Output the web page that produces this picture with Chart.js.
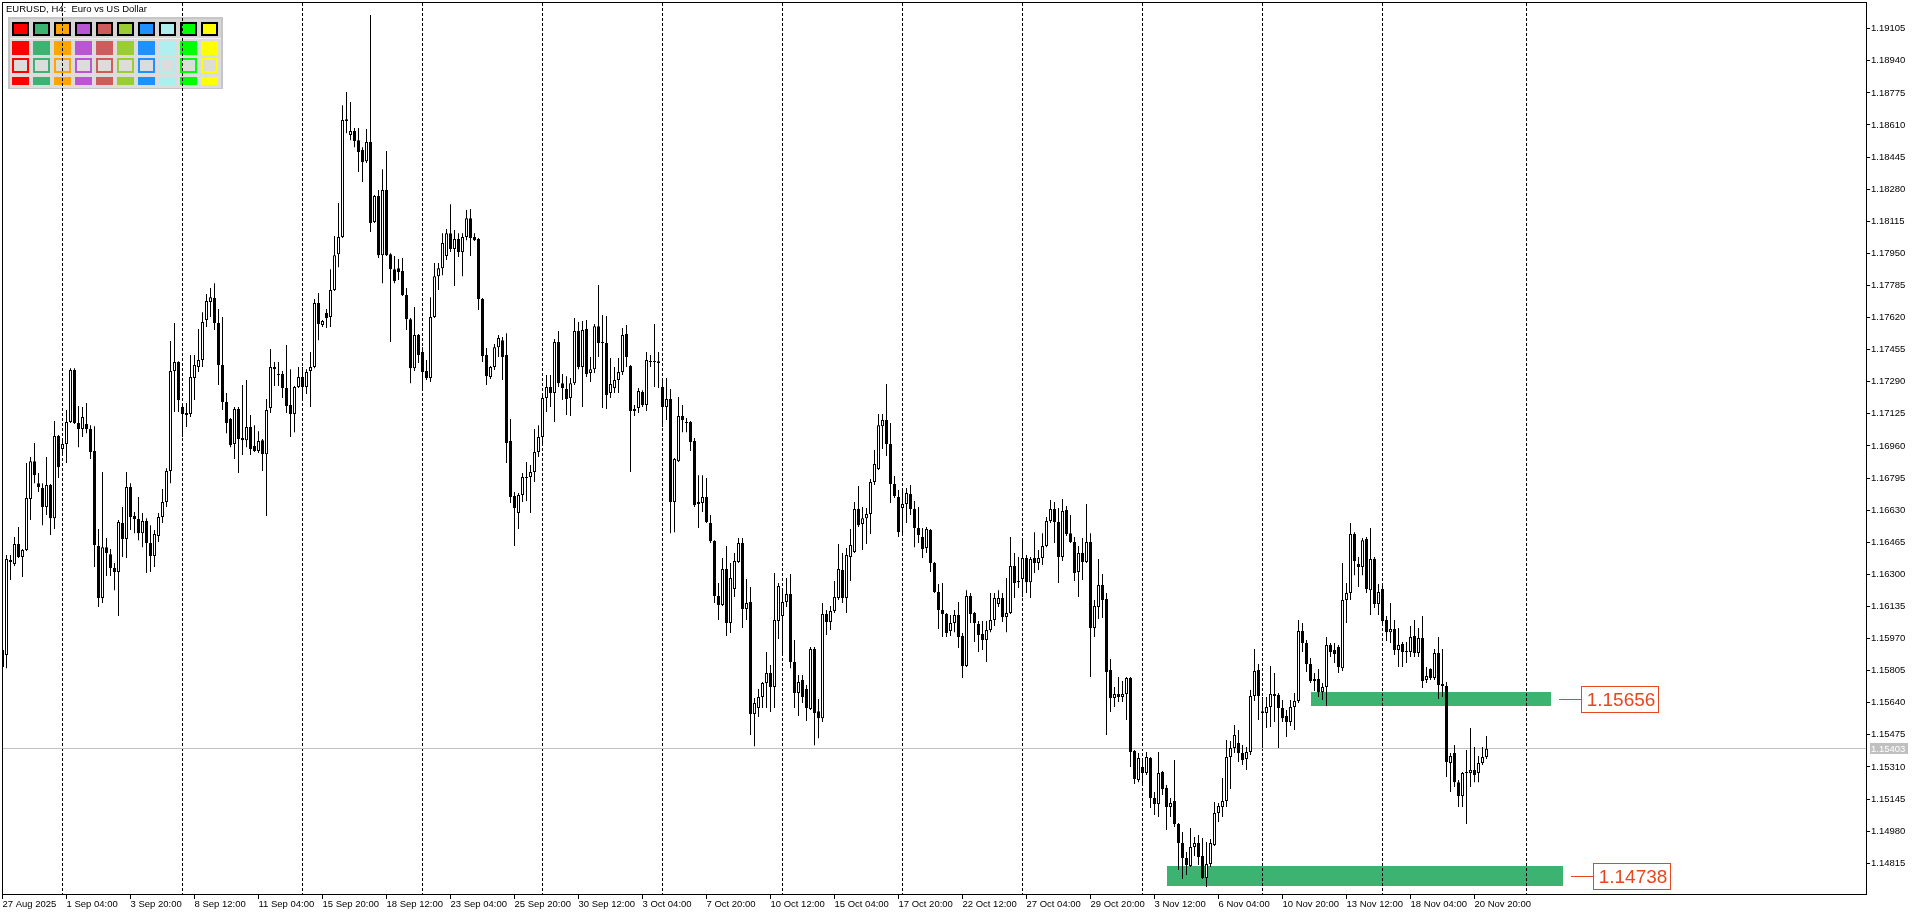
<!DOCTYPE html>
<html lang="en">
<head>
<meta charset="UTF-8" />
<title>EURUSD, H4</title>
<script src="https://cdn.jsdelivr.net/npm/chart.js"></script>
<style>
  html, body { margin: 0; padding: 0; background: #fff; overflow: hidden; }
  canvas { display: block; }
</style>
</head>
<body>
<canvas id="chart" width="1920" height="915"></canvas>
<script>
// EURUSD H4 bars, 27 Aug 2025 12:00 .. 21 Nov 2025 08:00
const openP = [
  1.15911, 1.15885, 1.16374, 1.16353, 1.16456, 1.16389, 1.16425, 1.16687, 1.16882, 1.16769,
  1.16744, 1.16646, 1.16759, 1.16589, 1.17011, 1.16944, 1.16970, 1.17083, 1.17350, 1.17078,
  1.17047, 1.17073, 1.17047, 1.16934, 1.16446, 1.16179, 1.16440, 1.16404, 1.16333, 1.16312,
  1.16564, 1.16482, 1.16749, 1.16600, 1.16584, 1.16512, 1.16574, 1.16461, 1.16394, 1.16497,
  1.16595, 1.16672, 1.16831, 1.17345, 1.17391, 1.17160, 1.17129, 1.17124, 1.17309, 1.17366,
  1.17402, 1.17607, 1.17700, 1.17720, 1.17592, 1.17376, 1.17186, 1.17098, 1.16970, 1.17150,
  1.17001, 1.16990, 1.17057, 1.16960, 1.16934, 1.16990, 1.16918, 1.17155, 1.17366, 1.17330,
  1.17330, 1.17258, 1.17170, 1.17124, 1.17263, 1.17314, 1.17263, 1.17345, 1.17366, 1.17695,
  1.17582, 1.17643, 1.17623, 1.17762, 1.17946, 1.18034, 1.18630, 1.18558, 1.18579, 1.18532,
  1.18481, 1.18424, 1.18522, 1.18111, 1.18245, 1.17941, 1.18276, 1.17946, 1.17869, 1.17874,
  1.17859, 1.17736, 1.17612, 1.17360, 1.17530, 1.17443, 1.17345, 1.17309, 1.17623, 1.17833,
  1.17874, 1.17936, 1.18054, 1.17972, 1.18024, 1.17957, 1.18034, 1.18131, 1.18034, 1.18024,
  1.17715, 1.17427, 1.17314, 1.17366, 1.17468, 1.17504, 1.17427, 1.16985, 1.16703, 1.16615,
  1.16708, 1.16800, 1.16800, 1.16826, 1.16929, 1.17006, 1.17206, 1.17263, 1.17232, 1.17494,
  1.17283, 1.17253, 1.17206, 1.17283, 1.17551, 1.17366, 1.17561, 1.17335, 1.17355, 1.17576,
  1.17494, 1.17489, 1.17232, 1.17258, 1.17299, 1.17340, 1.17535, 1.17371, 1.17150, 1.17155,
  1.17237, 1.17170, 1.17396, 1.17391, 1.17396, 1.17263, 1.17160, 1.17201, 1.16672, 1.16882,
  1.17114, 1.17083, 1.17083, 1.16985, 1.16662, 1.16667, 1.16698, 1.16564, 1.16471, 1.16189,
  1.16142, 1.16327, 1.16050, 1.16225, 1.16363, 1.16461, 1.16122, 1.16158, 1.15582, 1.15613,
  1.15670, 1.15742, 1.15793, 1.15721, 1.16060, 1.16086, 1.16158, 1.16199, 1.15850, 1.15690,
  1.15757, 1.15711, 1.15608, 1.15916, 1.15597, 1.15561, 1.16096, 1.16055, 1.16112, 1.16179,
  1.16322, 1.16179, 1.16389, 1.16415, 1.16636, 1.16559, 1.16589, 1.16610, 1.16775, 1.16841,
  1.17062, 1.17093, 1.16970, 1.16764, 1.16698, 1.16641, 1.16662, 1.16713, 1.16636, 1.16538,
  1.16492, 1.16435, 1.16528, 1.16358, 1.16209, 1.16117, 1.16096, 1.16009, 1.16050, 1.16091,
  1.15983, 1.15829, 1.16189, 1.16101, 1.16045, 1.15993, 1.15963, 1.16014, 1.16065, 1.16148,
  1.16179, 1.16081, 1.16101, 1.16343, 1.16266, 1.16276, 1.16384, 1.16260, 1.16384, 1.16358,
  1.16384, 1.16446, 1.16574, 1.16636, 1.16569, 1.16389, 1.16631, 1.16512, 1.16466, 1.16312,
  1.16410, 1.16363, 1.16466, 1.16024, 1.16132, 1.16245, 1.16173, 1.15808, 1.15664, 1.15685,
  1.15670, 1.15685, 1.15767, 1.15392, 1.15243, 1.15310, 1.15279, 1.15356, 1.15151, 1.15120,
  1.15284, 1.15202, 1.15104, 1.15135, 1.15017, 1.14919, 1.14842, 1.14801, 1.14898, 1.14919,
  1.14852, 1.14739, 1.14811, 1.14909, 1.15073, 1.15104, 1.15135, 1.15361, 1.15407, 1.15433,
  1.15382, 1.15351, 1.15387, 1.15675, 1.15808, 1.15597, 1.15587, 1.15618, 1.15685, 1.15680,
  1.15613, 1.15572, 1.15541, 1.15618, 1.15649, 1.16009, 1.15947, 1.15839, 1.15762, 1.15762,
  1.15695, 1.15721, 1.15937, 1.15911, 1.15927, 1.15818, 1.16168, 1.16204, 1.16507, 1.16353,
  1.16338, 1.16482, 1.16219, 1.16379, 1.16148, 1.16225, 1.16065, 1.16003, 1.16019, 1.15911,
  1.15942, 1.15906, 1.15901, 1.15983, 1.15896, 1.15973, 1.15757, 1.15813, 1.15767, 1.15896,
  1.15736, 1.15726, 1.15330, 1.15382, 1.15232, 1.15161, 1.15279, 1.15279, 1.15294, 1.15279,
  1.15330, 1.15361
];
const highP = [
  1.15937, 1.16399, 1.16399, 1.16492, 1.16543, 1.16430, 1.16872, 1.16903, 1.16975, 1.16821,
  1.16769, 1.16903, 1.16765, 1.17088, 1.17016, 1.16990, 1.17145, 1.17360, 1.17360, 1.17165,
  1.17160, 1.17181, 1.17067, 1.17062, 1.16533, 1.16826, 1.16487, 1.16430, 1.16358, 1.16579,
  1.16646, 1.16826, 1.16769, 1.16620, 1.16698, 1.16615, 1.16589, 1.16553, 1.16528, 1.16615,
  1.16739, 1.16846, 1.17499, 1.17592, 1.17396, 1.17170, 1.17181, 1.17427, 1.17427, 1.17561,
  1.17648, 1.17741, 1.17772, 1.17797, 1.17664, 1.17623, 1.17232, 1.17104, 1.17160, 1.17160,
  1.17273, 1.17299, 1.17119, 1.17067, 1.17036, 1.16996, 1.17201, 1.17458, 1.17391, 1.17391,
  1.17345, 1.17479, 1.17355, 1.17268, 1.17366, 1.17366, 1.17355, 1.17443, 1.17715, 1.17746,
  1.17607, 1.17664, 1.17869, 1.18039, 1.18209, 1.18712, 1.18779, 1.18728, 1.18594, 1.18594,
  1.18496, 1.18589, 1.19175, 1.18250, 1.18276, 1.18383, 1.18476, 1.17951, 1.17936, 1.17921,
  1.17926, 1.17772, 1.17618, 1.17674, 1.17535, 1.17468, 1.17402, 1.17725, 1.17900, 1.17900,
  1.18054, 1.18075, 1.18203, 1.18070, 1.18054, 1.18054, 1.18173, 1.18178, 1.18054, 1.18029,
  1.17720, 1.17463, 1.17371, 1.17484, 1.17530, 1.17520, 1.17540, 1.17098, 1.16723, 1.16718,
  1.16821, 1.16877, 1.16862, 1.17047, 1.17067, 1.17232, 1.17325, 1.17325, 1.17510, 1.17551,
  1.17330, 1.17319, 1.17309, 1.17618, 1.17597, 1.17602, 1.17607, 1.17417, 1.17587, 1.17787,
  1.17633, 1.17628, 1.17412, 1.17366, 1.17412, 1.17566, 1.17582, 1.17376, 1.17170, 1.17258,
  1.17247, 1.17443, 1.17427, 1.17587, 1.17443, 1.17299, 1.17309, 1.17253, 1.16898, 1.17212,
  1.17170, 1.17104, 1.17088, 1.17001, 1.16810, 1.16810, 1.16795, 1.16605, 1.16476, 1.16255,
  1.16384, 1.16446, 1.16358, 1.16410, 1.16487, 1.16487, 1.16276, 1.16235, 1.15664, 1.15711,
  1.15747, 1.15901, 1.15834, 1.16307, 1.16255, 1.16219, 1.16281, 1.16302, 1.15963, 1.15783,
  1.15783, 1.15731, 1.15927, 1.15927, 1.15659, 1.16153, 1.16117, 1.16137, 1.16266, 1.16456,
  1.16410, 1.16435, 1.16533, 1.16672, 1.16754, 1.16646, 1.16641, 1.16790, 1.16939, 1.17124,
  1.17124, 1.17278, 1.17078, 1.16805, 1.16734, 1.16734, 1.16744, 1.16759, 1.16677, 1.16646,
  1.16538, 1.16543, 1.16533, 1.16363, 1.16250, 1.16255, 1.16101, 1.16091, 1.16117, 1.16158,
  1.15998, 1.16219, 1.16204, 1.16106, 1.16060, 1.16060, 1.16060, 1.16204, 1.16204, 1.16219,
  1.16204, 1.16281, 1.16492, 1.16410, 1.16389, 1.16476, 1.16399, 1.16389, 1.16517, 1.16425,
  1.16512, 1.16595, 1.16682, 1.16672, 1.16641, 1.16687, 1.16651, 1.16605, 1.16492, 1.16446,
  1.16487, 1.16662, 1.16512, 1.16168, 1.16379, 1.16302, 1.16204, 1.15865, 1.15721, 1.15772,
  1.15752, 1.15772, 1.15772, 1.15397, 1.15382, 1.15346, 1.15387, 1.15361, 1.15181, 1.15387,
  1.15289, 1.15217, 1.15151, 1.15346, 1.15022, 1.14976, 1.14873, 1.14996, 1.14950, 1.14960,
  1.14945, 1.14924, 1.14940, 1.15130, 1.15125, 1.15253, 1.15448, 1.15443, 1.15526, 1.15500,
  1.15423, 1.15412, 1.15706, 1.15916, 1.15839, 1.15670, 1.15670, 1.15829, 1.15793, 1.15690,
  1.15654, 1.15603, 1.15654, 1.15690, 1.16065, 1.16050, 1.15963, 1.15870, 1.15793, 1.15813,
  1.15742, 1.15978, 1.15947, 1.15947, 1.15937, 1.16358, 1.16255, 1.16564, 1.16517, 1.16389,
  1.16487, 1.16492, 1.16538, 1.16389, 1.16250, 1.16245, 1.16086, 1.16153, 1.16065, 1.16024,
  1.15952, 1.15952, 1.16034, 1.16065, 1.16024, 1.16086, 1.15824, 1.15818, 1.15916, 1.15978,
  1.15916, 1.15747, 1.15382, 1.15423, 1.15243, 1.15284, 1.15397, 1.15510, 1.15412, 1.15366,
  1.15412, 1.15469
];
const lowP = [
  1.15808, 1.15818, 1.16271, 1.16343, 1.16384, 1.16286, 1.16420, 1.16579, 1.16769, 1.16723,
  1.16553, 1.16605, 1.16502, 1.16533, 1.16795, 1.16913, 1.16872, 1.17078, 1.17073, 1.16954,
  1.17006, 1.17026, 1.16893, 1.16338, 1.16132, 1.16153, 1.16291, 1.16291, 1.16219, 1.16086,
  1.16389, 1.16384, 1.16528, 1.16512, 1.16476, 1.16440, 1.16307, 1.16312, 1.16338, 1.16466,
  1.16564, 1.16646, 1.16769, 1.17134, 1.17134, 1.17006, 1.17057, 1.17109, 1.17196, 1.17340,
  1.17366, 1.17571, 1.17623, 1.17556, 1.17273, 1.17145, 1.17026, 1.16954, 1.16893, 1.16821,
  1.16913, 1.16954, 1.16913, 1.16929, 1.16924, 1.16831, 1.16600, 1.17129, 1.17268, 1.17268,
  1.17206, 1.17129, 1.17006, 1.17031, 1.17258, 1.17196, 1.17227, 1.17160, 1.17360, 1.17504,
  1.17571, 1.17566, 1.17571, 1.17757, 1.17879, 1.18029, 1.18568, 1.18532, 1.18496, 1.18368,
  1.18317, 1.18414, 1.18060, 1.18106, 1.17926, 1.17797, 1.17936, 1.17494, 1.17797, 1.17813,
  1.17731, 1.17556, 1.17283, 1.17345, 1.17386, 1.17258, 1.17299, 1.17289, 1.17618, 1.17762,
  1.17838, 1.17916, 1.17957, 1.17782, 1.17931, 1.17833, 1.18018, 1.17936, 1.18013, 1.17659,
  1.17391, 1.17273, 1.17304, 1.17350, 1.17417, 1.17299, 1.16872, 1.16667, 1.16446, 1.16533,
  1.16672, 1.16677, 1.16615, 1.16775, 1.16903, 1.16975, 1.17134, 1.17160, 1.17083, 1.17263,
  1.17196, 1.17119, 1.17114, 1.17273, 1.17355, 1.17160, 1.17314, 1.17289, 1.17335, 1.17417,
  1.17155, 1.17150, 1.17206, 1.17232, 1.17232, 1.17325, 1.17366, 1.16826, 1.17114, 1.17129,
  1.17160, 1.17140, 1.17366, 1.17263, 1.17258, 1.17057, 1.17093, 1.16512, 1.16517, 1.16877,
  1.17031, 1.17031, 1.16934, 1.16646, 1.16538, 1.16620, 1.16564, 1.16461, 1.16153, 1.16065,
  1.16137, 1.15983, 1.15998, 1.16184, 1.16358, 1.16024, 1.16065, 1.15474, 1.15417, 1.15567,
  1.15613, 1.15613, 1.15592, 1.15613, 1.15968, 1.15896, 1.16132, 1.15818, 1.15613, 1.15572,
  1.15639, 1.15546, 1.15603, 1.15422, 1.15458, 1.15541, 1.15988, 1.16014, 1.16101, 1.16168,
  1.16153, 1.16101, 1.16266, 1.16410, 1.16543, 1.16425, 1.16456, 1.16507, 1.16759, 1.16836,
  1.16944, 1.16908, 1.16667, 1.16693, 1.16492, 1.16502, 1.16564, 1.16605, 1.16440, 1.16461,
  1.16384, 1.16410, 1.16312, 1.16204, 1.16019, 1.15978, 1.15978, 1.15983, 1.16003, 1.15922,
  1.15767, 1.15824, 1.16050, 1.15952, 1.15901, 1.15911, 1.15850, 1.16003, 1.16034, 1.16132,
  1.16055, 1.16003, 1.16096, 1.16179, 1.16230, 1.16184, 1.16204, 1.16179, 1.16307, 1.16322,
  1.16348, 1.16440, 1.16564, 1.16461, 1.16255, 1.16369, 1.16497, 1.16461, 1.16266, 1.16184,
  1.16271, 1.16358, 1.15772, 1.15978, 1.16070, 1.16076, 1.15474, 1.15592, 1.15618, 1.15644,
  1.15644, 1.15551, 1.15310, 1.15222, 1.15232, 1.15217, 1.15269, 1.15099, 1.15063, 1.15053,
  1.15166, 1.14986, 1.15053, 1.15002, 1.14780, 1.14734, 1.14755, 1.14796, 1.14852, 1.14806,
  1.14734, 1.14693, 1.14796, 1.14904, 1.15027, 1.15053, 1.15104, 1.15197, 1.15382, 1.15335,
  1.15320, 1.15294, 1.15371, 1.15649, 1.15551, 1.15407, 1.15510, 1.15515, 1.15541, 1.15407,
  1.15541, 1.15464, 1.15520, 1.15500, 1.15639, 1.15901, 1.15798, 1.15742, 1.15700, 1.15670,
  1.15654, 1.15623, 1.15875, 1.15844, 1.15793, 1.15803, 1.16050, 1.16168, 1.16296, 1.16235,
  1.16296, 1.16204, 1.16091, 1.16127, 1.16091, 1.16050, 1.15957, 1.15947, 1.15885, 1.15824,
  1.15824, 1.15844, 1.15875, 1.15875, 1.15875, 1.15716, 1.15742, 1.15757, 1.15757, 1.15659,
  1.15670, 1.15258, 1.15181, 1.15207, 1.15104, 1.15104, 1.15017, 1.15207, 1.15232, 1.15232,
  1.15320, 1.15351
];
const closeP = [
  1.15824, 1.16379, 1.16363, 1.16456, 1.16389, 1.16425, 1.16693, 1.16882, 1.16810, 1.16749,
  1.16646, 1.16759, 1.16589, 1.17011, 1.16851, 1.16970, 1.17083, 1.17350, 1.17078, 1.17047,
  1.17109, 1.17047, 1.16929, 1.16451, 1.16179, 1.16440, 1.16410, 1.16333, 1.16312, 1.16569,
  1.16482, 1.16749, 1.16595, 1.16584, 1.16512, 1.16574, 1.16461, 1.16394, 1.16507, 1.16595,
  1.16672, 1.16831, 1.17345, 1.17391, 1.17196, 1.17124, 1.17119, 1.17314, 1.17376, 1.17402,
  1.17597, 1.17705, 1.17725, 1.17592, 1.17376, 1.17186, 1.17078, 1.16965, 1.17150, 1.16996,
  1.16990, 1.17057, 1.16944, 1.16934, 1.16985, 1.16918, 1.17145, 1.17366, 1.17355, 1.17325,
  1.17258, 1.17165, 1.17124, 1.17263, 1.17314, 1.17263, 1.17340, 1.17366, 1.17695, 1.17587,
  1.17602, 1.17618, 1.17762, 1.17941, 1.18034, 1.18635, 1.18640, 1.18579, 1.18527, 1.18471,
  1.18419, 1.18522, 1.18106, 1.18245, 1.17941, 1.18276, 1.17941, 1.17869, 1.17808, 1.17854,
  1.17736, 1.17612, 1.17360, 1.17530, 1.17427, 1.17340, 1.17309, 1.17623, 1.17833, 1.17874,
  1.18003, 1.18054, 1.17972, 1.18024, 1.17957, 1.18034, 1.18131, 1.18029, 1.18018, 1.17715,
  1.17422, 1.17319, 1.17366, 1.17468, 1.17515, 1.17417, 1.16975, 1.16698, 1.16641, 1.16708,
  1.16800, 1.16795, 1.16826, 1.16929, 1.17006, 1.17206, 1.17263, 1.17232, 1.17494, 1.17283,
  1.17258, 1.17201, 1.17283, 1.17551, 1.17366, 1.17556, 1.17330, 1.17355, 1.17576, 1.17489,
  1.17489, 1.17222, 1.17278, 1.17299, 1.17340, 1.17530, 1.17417, 1.17140, 1.17140, 1.17242,
  1.17170, 1.17402, 1.17391, 1.17396, 1.17386, 1.17160, 1.17201, 1.16672, 1.16893, 1.17114,
  1.17093, 1.17078, 1.16980, 1.16656, 1.16672, 1.16698, 1.16569, 1.16471, 1.16189, 1.16142,
  1.16327, 1.16050, 1.16281, 1.16369, 1.16461, 1.16122, 1.16153, 1.15582, 1.15639, 1.15670,
  1.15742, 1.15793, 1.15721, 1.16065, 1.16240, 1.16158, 1.16199, 1.15850, 1.15690, 1.15747,
  1.15670, 1.15613, 1.15916, 1.15587, 1.15561, 1.16096, 1.16055, 1.16112, 1.16184, 1.16327,
  1.16179, 1.16399, 1.16451, 1.16636, 1.16553, 1.16589, 1.16610, 1.16775, 1.16867, 1.17067,
  1.17093, 1.16970, 1.16764, 1.16703, 1.16517, 1.16662, 1.16718, 1.16636, 1.16538, 1.16502,
  1.16430, 1.16533, 1.16358, 1.16209, 1.16117, 1.16096, 1.15998, 1.16050, 1.16091, 1.15978,
  1.15829, 1.16189, 1.16096, 1.16050, 1.15988, 1.15963, 1.16014, 1.16065, 1.16179, 1.16179,
  1.16081, 1.16101, 1.16343, 1.16255, 1.16260, 1.16384, 1.16260, 1.16379, 1.16358, 1.16384,
  1.16446, 1.16574, 1.16636, 1.16569, 1.16389, 1.16626, 1.16507, 1.16466, 1.16307, 1.16410,
  1.16363, 1.16466, 1.16024, 1.16137, 1.16245, 1.16168, 1.15798, 1.15664, 1.15685, 1.15670,
  1.15685, 1.15767, 1.15387, 1.15248, 1.15356, 1.15279, 1.15361, 1.15151, 1.15120, 1.15279,
  1.15197, 1.15104, 1.15125, 1.15017, 1.14919, 1.14842, 1.14806, 1.14898, 1.14919, 1.14847,
  1.14739, 1.14811, 1.14919, 1.15073, 1.15109, 1.15135, 1.15361, 1.15407, 1.15474, 1.15382,
  1.15346, 1.15387, 1.15675, 1.15803, 1.15675, 1.15587, 1.15618, 1.15685, 1.15675, 1.15613,
  1.15561, 1.15541, 1.15618, 1.15649, 1.16009, 1.15947, 1.15839, 1.15752, 1.15752, 1.15695,
  1.15721, 1.15937, 1.15901, 1.15891, 1.15824, 1.16168, 1.16204, 1.16507, 1.16369, 1.16338,
  1.16476, 1.16225, 1.16379, 1.16148, 1.16209, 1.16060, 1.16003, 1.16019, 1.15911, 1.15937,
  1.15901, 1.15901, 1.15978, 1.15896, 1.15973, 1.15752, 1.15778, 1.15767, 1.15896, 1.15731,
  1.15726, 1.15335, 1.15366, 1.15232, 1.15161, 1.15279, 1.15284, 1.15294, 1.15269, 1.15330,
  1.15361, 1.15403
];

// time axis: labelled bars and their captions
const dateTickBars = [0, 16, 32, 48, 64, 80, 96, 112, 128, 144, 160, 176, 192, 208, 224, 240, 256, 272, 288, 304, 320, 336, 352, 368];
const dateLabels = ['27 Aug 2025', '1 Sep 04:00', '3 Sep 20:00', '8 Sep 12:00', '11 Sep 04:00', '15 Sep 20:00',
  '18 Sep 12:00', '23 Sep 04:00', '25 Sep 20:00', '30 Sep 12:00', '3 Oct 04:00', '7 Oct 20:00',
  '10 Oct 12:00', '15 Oct 04:00', '17 Oct 20:00', '22 Oct 12:00', '27 Oct 04:00', '29 Oct 20:00',
  '3 Nov 12:00', '6 Nov 04:00', '10 Nov 20:00', '13 Nov 12:00', '18 Nov 04:00', '20 Nov 20:00'];
// weekly period separators
const separatorBars = [15, 45, 75, 105, 135, 165, 195, 225, 255, 285, 315, 345, 381];

// price axis
const priceTicks = [1.19105, 1.18940, 1.18775, 1.18610, 1.18445, 1.18280, 1.18115, 1.17950, 1.17785,
  1.17620, 1.17455, 1.17290, 1.17125, 1.16960, 1.16795, 1.16630, 1.16465, 1.16300, 1.16135,
  1.15970, 1.15805, 1.15640, 1.15475, 1.15310, 1.15145, 1.14980, 1.14815];
const bidPrice = 1.15403;

// supply/demand zones
const zoneFrom = [327, 291];
const zoneTo = [387, 390];
const zoneTop = [1.15695, 1.14801];
const zoneBottom = [1.15623, 1.14698];
const zoneLabels = ['1.15656', '1.14738'];

const paletteColors = ['#ff0000', '#3cb371', '#ffa500', '#ba55d3', '#cd5c5c', '#9acd32', '#1e90ff', '#afeeee', '#00ff00', '#ffff00'];
const FONT = 'Liberation Sans';
const labelRed = '#e8461e';

Chart.defaults.font.family = FONT;

const idx = openP.map((_, i) => i);
const wickData = idx.map(i => ({ x: i, y: [lowP[i], highP[i]] }));
const bodyData = idx.map(i => ({ x: i, y: [openP[i], closeP[i]] }));
const bodyFill = idx.map(i => closeP[i] >= openP[i] ? '#ffffff' : '#000000');

function drawPanel(ctx) {
  ctx.fillStyle = '#c6c6c6';
  ctx.fillRect(8, 17, 215, 72);
  ctx.fillStyle = '#d6d6d6';
  ctx.fillRect(10, 19, 211, 19);
  ctx.fillStyle = '#f2f2f2';
  ctx.fillRect(10, 38, 211, 1);
  ctx.fillStyle = '#dcdcdc';
  ctx.fillRect(10, 39, 211, 49);
  paletteColors.forEach((c, k) => {
    const cx = 12 + k * 21;
    ctx.fillStyle = '#000';
    ctx.fillRect(cx, 22, 17, 14);
    ctx.fillStyle = c;
    ctx.fillRect(cx + 2, 24, 13, 10);
    ctx.fillRect(cx, 41, 17, 14);
    ctx.fillRect(cx, 58, 17, 15);
    ctx.fillStyle = '#dcdcdc';
    ctx.fillRect(cx + 2, 60, 13, 11);
    ctx.fillStyle = c;
    ctx.fillRect(cx, 77, 17, 8);
  });
}

const mtPlugin = {
  id: 'mtDecor',
  beforeDatasetsDraw(chart) {
    const { ctx, chartArea: a, scales: { x, y } } = chart;
    ctx.save();

    // title
    ctx.fillStyle = '#000';
    ctx.font = '9.5px "' + FONT + '"';
    ctx.textAlign = 'left';
    ctx.textBaseline = 'middle';
    ctx.fillText('EURUSD, H4:  Euro vs US Dollar', 6, 9);

    drawPanel(ctx);

    // zones
    ctx.fillStyle = '#3cb371';
    zoneFrom.forEach((f, k) => {
      const x0 = Math.round(x.getPixelForValue(f));
      const x1 = Math.round(x.getPixelForValue(zoneTo[k]));
      const y0 = Math.round(y.getPixelForValue(zoneTop[k]));
      const y1 = Math.round(y.getPixelForValue(zoneBottom[k]));
      ctx.fillRect(x0, y0, x1 - x0, y1 - y0);
    });

    // period separators
    ctx.strokeStyle = '#000';
    ctx.lineWidth = 1;
    ctx.setLineDash([3, 2]);
    ctx.beginPath();
    separatorBars.forEach(b => {
      const px = Math.floor(x.getPixelForValue(b)) + 0.5;
      ctx.moveTo(px, a.top);
      ctx.lineTo(px, a.bottom);
    });
    ctx.stroke();
    ctx.setLineDash([]);

    // bid line
    const by = Math.floor(y.getPixelForValue(bidPrice)) + 0.5;
    ctx.strokeStyle = '#c0c0c0';
    ctx.beginPath();
    ctx.moveTo(a.left, by);
    ctx.lineTo(a.right, by);
    ctx.stroke();
    ctx.restore();
  },
  afterDatasetsDraw(chart) {
    const { ctx, chartArea: a, scales: { x, y } } = chart;
    ctx.save();

    // zone price labels
    ctx.font = '19px "' + FONT + '"';
    ctx.textAlign = 'center';
    ctx.textBaseline = 'middle';
    zoneFrom.forEach((f, k) => {
      const xr = Math.round(x.getPixelForValue(zoneTo[k]));
      const ym = Math.round(y.getPixelForValue((zoneTop[k] + zoneBottom[k]) / 2)) + 0.5;
      ctx.strokeStyle = labelRed;
      ctx.lineWidth = 1;
      ctx.beginPath();
      ctx.moveTo(xr + 8, ym);
      ctx.lineTo(xr + 30, ym);
      ctx.stroke();
      ctx.fillStyle = '#fff';
      ctx.fillRect(xr + 30, ym - 13, 78, 26);
      ctx.strokeRect(xr + 30.5, ym - 13, 77, 26);
      ctx.fillStyle = labelRed;
      ctx.fillText(zoneLabels[k], xr + 70, ym + 1);
    });

    // frame
    ctx.fillStyle = '#000';
    ctx.fillRect(2, 2, 1865, 1);
    ctx.fillRect(2, 2, 1, 893);
    ctx.fillRect(a.right, 2, 1, a.bottom - 1);
    ctx.fillRect(2, a.bottom, a.right - 1, 1);

    // bid price tag on the axis
    const by = Math.floor(y.getPixelForValue(bidPrice));
    ctx.fillStyle = '#c0c0c0';
    ctx.fillRect(a.right + 4, by - 5, 38, 11);
    ctx.fillStyle = '#fff';
    ctx.font = '9.5px "' + FONT + '"';
    ctx.textAlign = 'left';
    ctx.fillText(bidPrice.toFixed(5), a.right + 5, by + 1);
    ctx.restore();
  }
};

new Chart(document.getElementById('chart'), {
  type: 'bar',
  data: {
    datasets: [
      {
        label: 'wick',
        data: wickData,
        backgroundColor: '#000',
        borderWidth: 0,
        barThickness: 1,
        grouped: false,
        inflateAmount: 0,
        order: 2
      },
      {
        label: 'body',
        data: bodyData,
        backgroundColor: bodyFill,
        borderColor: '#000',
        borderWidth: 1,
        borderSkipped: false,
        barThickness: 3,
        grouped: false,
        inflateAmount: 0,
        minBarLength: 1,
        order: 1
      }
    ]
  },
  options: {
    responsive: false,
    animation: false,
    events: [],
    layout: { padding: { left: 2, top: 3, right: 0, bottom: 0 } },
    plugins: { legend: { display: false }, tooltip: { enabled: false } },
    scales: {
      x: {
        type: 'linear',
        min: -0.125,
        max: 465.875,
        offset: false,
        border: { display: false },
        grid: { drawOnChartArea: false, drawTicks: true, tickLength: 5, color: '#000', offset: false },
        ticks: {
          autoSkip: false, maxRotation: 0, minRotation: 0, align: 'start', padding: 0,
          color: '#000', font: { family: FONT, size: 9.5 },
          callback: (v, i) => dateLabels[i]
        },
        afterBuildTicks: s => { s.ticks = dateTickBars.map(v => ({ value: v })); },
        afterFit: s => { s.height = 21; s.paddingLeft = 0; s.paddingRight = 0; }
      },
      y: {
        type: 'linear',
        position: 'right',
        min: 1.14657,
        max: 1.19237,
        beginAtZero: false,
        border: { display: false },
        grid: { drawOnChartArea: false, drawTicks: true, tickLength: 4, color: '#000' },
        ticks: {
          padding: 1, color: '#000', font: { family: FONT, size: 9.5 },
          callback: v => v.toFixed(5)
        },
        afterBuildTicks: s => { s.ticks = priceTicks.map(v => ({ value: v })); },
        afterFit: s => { s.width = 54; s.paddingTop = 0; s.paddingBottom = 0; }
      }
    }
  },
  plugins: [mtPlugin]
});
</script>
</body>
</html>
